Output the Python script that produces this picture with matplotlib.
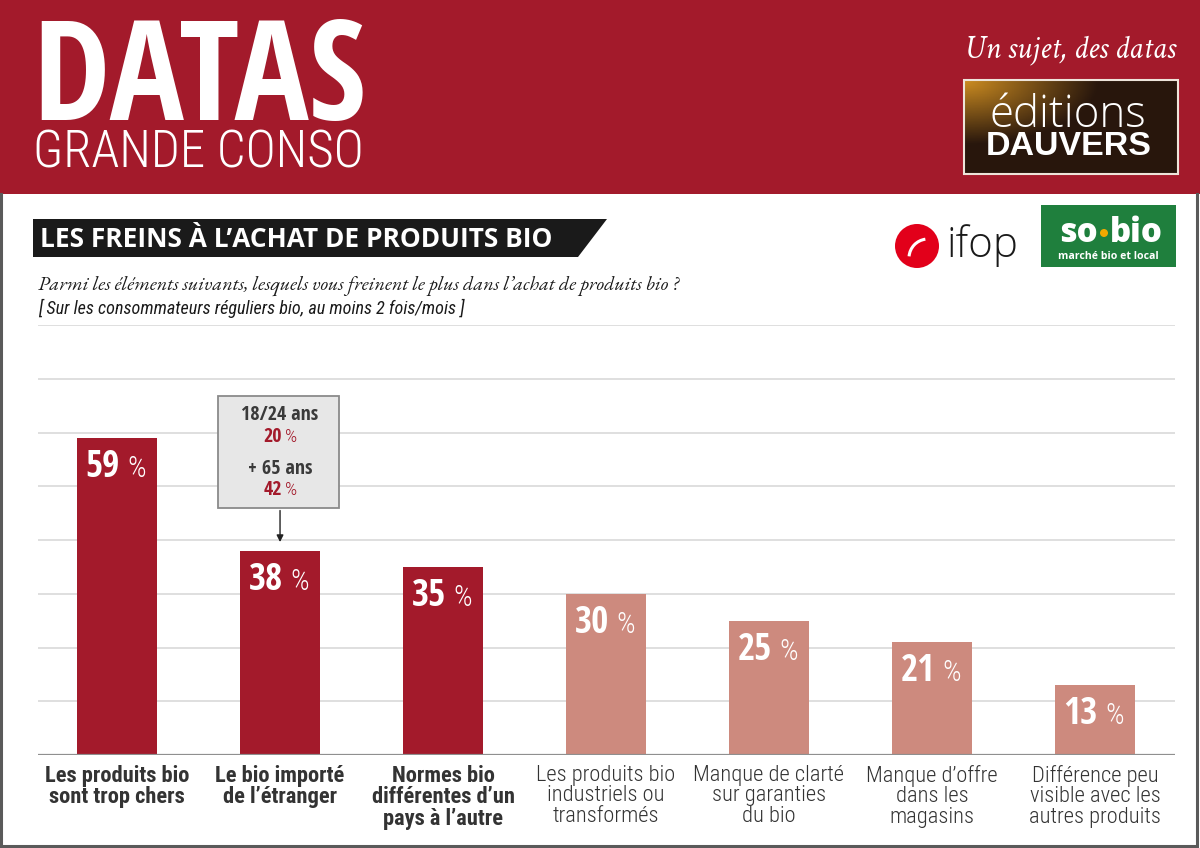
import numpy as np
import matplotlib
matplotlib.use('Agg')
import matplotlib.pyplot as plt
from matplotlib import font_manager
from matplotlib.patches import Rectangle, Polygon, Circle, Arc

# données
categories = [
    "Les produits bio\nsont trop chers",
    "Le bio importé\nde l’étranger",
    "Normes bio\ndifférentes d’un\npays à l’autre",
    "Les produits bio\nindustriels ou\ntransformés",
    "Manque de clarté\nsur garanties\ndu bio",
    "Manque d’offre\ndans les\nmagasins",
    "Différence peu\nvisible avec les\nautres produits",
]
values = [59, 38, 35, 30, 25, 21, 13]
highlight = [True, True, True, False, False, False, False]

zoom_labels = ["18/24 ans", "+ 65 ans"]
zoom_values = [20, 42]

RED = '#A31A2B'
LIGHT = '#CD8A7E'
DARK = '#333333'

installed = {f.name for f in font_manager.fontManager.ttflist}


def pick(*names):
    for n in names:
        if n in installed:
            return n
    return 'DejaVu Sans'


CONDB = pick('Open Sans Condensed', 'PT Sans Narrow', 'Roboto Condensed', 'Liberation Sans')
COND = pick('Open Sans', 'PT Sans Narrow', 'Liberation Sans')
ROBC = pick('Roboto Condensed', 'PT Sans Narrow', 'Liberation Sans')
SANS = pick('Open Sans', 'Liberation Sans')
GARA = pick('EB Garamond', 'Crimson Text', 'Liberation Serif')
SERIF = pick('Crimson Text', 'EB Garamond', 'Liberation Serif')
ARIAL = pick('Liberation Sans', 'DejaVu Sans')

PX = 72 / 100  # points par pixel
bold_cond = dict(family=CONDB, weight='bold', stretch='condensed')
rob_light = dict(family=ROBC, weight=300)

fig = plt.figure(figsize=(12, 8.48), dpi=100)
fig.patch.set_facecolor('white')

# calque de décor en pixels
deco = fig.add_axes([0, 0, 1, 1])
deco.set_xlim(0, 1200)
deco.set_ylim(848, 0)
deco.axis('off')

# bandeau rouge
deco.add_patch(Rectangle((0, 0), 1200, 194, color=RED, lw=0))
deco.text(32, 120, "DATAS", fontsize=139 * PX, color='white', va='baseline', **bold_cond)
deco.text(33, 168, "GRANDE CONSO", fontsize=51 * PX, color='white', va='baseline',
          **rob_light)
deco.text(1176, 57, "Un sujet, des datas", family=SERIF, style='italic',
          fontsize=32 * PX, color='white', ha='right', va='baseline')

# logo éditions Dauvers (dégradé)
gy, gx = np.mgrid[0:1:60j, 0:1:120j]
dist = np.sqrt((gx * 1.2) ** 2 + (gy * 1.1) ** 2)
c0 = np.array([0.80, 0.55, 0.13])
c1 = np.array([0.16, 0.09, 0.05])
t = np.clip(dist / 0.75, 0, 1)[..., None]
grad = c0 * (1 - t) + c1 * t
deco.imshow(grad, extent=[964, 1178, 174, 80], aspect='auto', zorder=2)
deco.add_patch(Rectangle((964, 80), 214, 94, fill=False, ec='#EEE4DA', lw=1.5, zorder=3))
deco.text(1068, 127, "éditions", family=SANS, weight=300, fontsize=44 * PX,
          color='white', ha='center', va='baseline', zorder=4)
deco.text(1069, 155, "DAUVERS", family=ARIAL, weight='bold', fontsize=34 * PX,
          color='white', ha='center', va='baseline', zorder=4)

# cadre
deco.plot([1, 1, 1197, 1197], [194, 846, 846, 194], color='#5A5A5A', lw=2.2,
          solid_joinstyle='miter')

# titre
deco.add_patch(Polygon([(33, 219), (607, 219), (578, 257), (33, 257)],
                       closed=True, color='#1A1A1A', lw=0))
deco.text(40, 247, "LES FREINS À L’ACHAT DE PRODUITS BIO", family=SANS,
          weight='bold', fontsize=26.3 * PX, color='white', va='baseline')
deco.text(38, 290, "Parmi les éléments suivants, lesquels vous freinent le plus dans "
          "l’achat de produits bio ?", family=GARA, style='italic',
          fontsize=20 * PX, color='#1A1A1A', va='baseline')
deco.text(38, 314, "[ Sur les consommateurs réguliers bio, au moins 2 fois/mois ]",
          family=ROBC, style='italic', fontsize=18.2 * PX, color='#1A1A1A',
          va='baseline')

# logo ifop
deco.add_patch(Circle((917, 246), 22, color='#E2001A', lw=0))
deco.add_patch(Arc((928, 258), 38, 38, theta1=185, theta2=262, color='white', lw=2.2))
deco.text(946, 257, "ifop", family=SANS, weight=300, fontsize=42 * PX,
          color='#1A1A1A', va='baseline')

# logo so·bio
deco.add_patch(Rectangle((1041, 205), 135, 62, color='#1F7F3D', lw=0))
deco.text(1098, 242, "so", family=SANS, weight=800, fontsize=33 * PX,
          color='white', ha='right', va='baseline')
deco.add_patch(Circle((1104, 233), 4, color='#F2A900', lw=0))
deco.text(1110, 242, "bio", family=SANS, weight=800, fontsize=33 * PX,
          color='white', ha='left', va='baseline')
deco.text(1108, 259, "marché bio et local", family=SANS, weight='bold',
          fontsize=10.5 * PX, color='white', ha='center', va='baseline')

# graphique
ax = fig.add_axes([38 / 1200, (848 - 755) / 848, 1137 / 1200, 430 / 848])
ax.set_facecolor('none')
x = np.arange(len(values))
colors = [RED if h else LIGHT for h in highlight]
ax.bar(x, values, width=0.49, color=colors, zorder=3)
ax.set_xlim(-0.485, 6.491)
ax.set_ylim(0, 80)
ax.set_yticks(np.arange(10, 81, 10))
ax.yaxis.grid(True, color='#DCDCDC', lw=1.3, zorder=0)
ax.axhline(0, color='#8F8F8F', lw=1.6, zorder=4)
for s in ax.spines.values():
    s.set_visible(False)
ax.tick_params(axis='y', left=False, labelleft=False)
ax.tick_params(axis='x', length=0, pad=7)
ax.set_xticks(x)
ax.set_xticklabels(categories)
for lab, h in zip(ax.get_xticklabels(), highlight):
    lab.set_family(ROBC)
    lab.set_weight('bold' if h else 300)
    lab.set_fontsize(22.5 * PX)
    lab.set_color(DARK)
    lab.set_linespacing(0.98)

for xi, v in zip(x, values):
    ax.annotate(str(v), (xi, v), xytext=(3 * PX, -39 * PX), textcoords='offset points',
                ha='right', va='baseline', fontsize=37 * PX, color='white', zorder=5,
                **bold_cond)
    ax.annotate("%", (xi, v), xytext=(10 * PX, -39 * PX), textcoords='offset points',
                ha='left', va='baseline', fontsize=29 * PX, color='white', zorder=5,
                **rob_light)

# encadré 18/24 ans / +65 ans
bx = x[1]
ax.add_patch(Rectangle((bx - 0.38, 46.0), 0.74, 20.8, fc='#E7E7E7', ec='#8A8A8A',
                       lw=1.3, zorder=5))
ax.annotate("", xy=(bx, 39.1), xytext=(bx, 46.0),
            arrowprops=dict(arrowstyle='-|>', color='#222222', lw=1, mutation_scale=10),
            zorder=5)
rows_y = [(62.3, 58.2), (52.3, 48.4)]
for lab, val, (yl, yv) in zip(zoom_labels, zoom_values, rows_y):
    ax.text(bx, yl, lab, ha='center', va='baseline', fontsize=20 * PX,
            color='#3A3A3A', zorder=6, **bold_cond)
    ax.annotate(str(val), (bx, yv), xytext=(2 * PX, 0), textcoords='offset points',
                ha='right', va='baseline', fontsize=20 * PX, color=RED, zorder=6,
                **bold_cond)
    ax.annotate("%", (bx, yv), xytext=(5 * PX, 0), textcoords='offset points',
                ha='left', va='baseline', fontsize=19 * PX, color=RED, zorder=6,
                **rob_light)

fig.savefig('out.png', dpi=100)
